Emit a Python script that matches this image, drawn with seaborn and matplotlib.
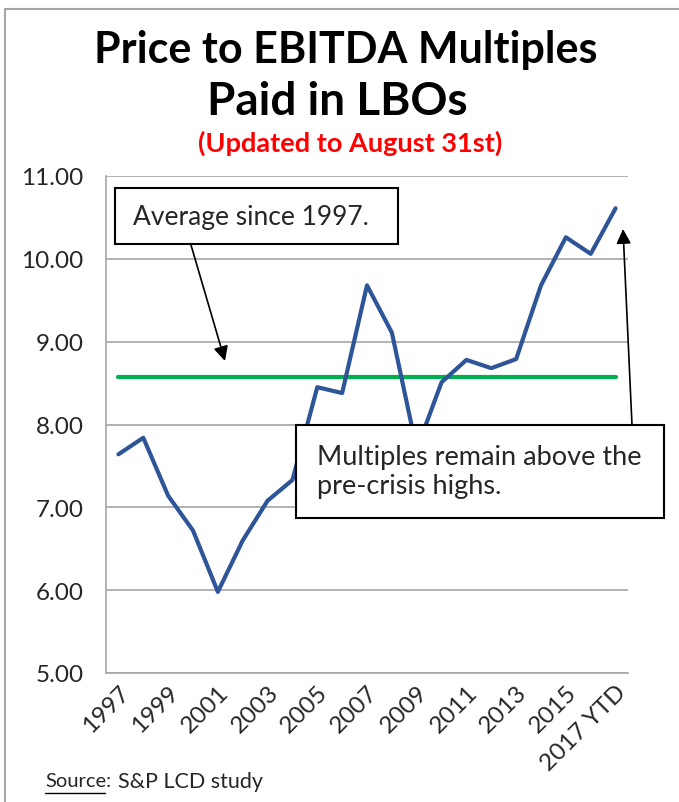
import numpy as np
import pandas as pd
import matplotlib
matplotlib.use('Agg')
import matplotlib.pyplot as plt
from matplotlib.patches import Rectangle, FancyArrowPatch
from matplotlib.lines import Line2D
import seaborn as sns

# ---- data ----
years = ['1997','1998','1999','2000','2001','2002','2003','2004','2005','2006','2007',
         '2008','2009','2010','2011','2012','2013','2014','2015','2016','2017 YTD']
multiples = [7.64, 7.84, 7.14, 6.72, 5.98, 6.60, 7.08, 7.33, 8.45, 8.38, 9.68,
             9.11, 7.70, 8.51, 8.78, 8.68, 8.79, 9.68, 10.26, 10.06, 10.61]
average_since_1997 = 8.57
ytick_vals = [5, 6, 7, 8, 9, 10, 11]

sns.set_style('white')
plt.rcParams['font.family'] = ['Lato', 'DejaVu Sans']

W, H = 679, 803
fig = plt.figure(figsize=(W/100, H/100), dpi=100)

def fx(x): return x / W
def fy(y): return 1 - y / H

ax = fig.add_axes([fx(106), fy(674), fx(628) - fx(106), fy(177) - fy(674)])

df = pd.DataFrame({'pos': np.arange(len(years)), 'year': years, 'mult': multiples,
                   'avg': [average_since_1997] * len(years)})

sns.lineplot(data=df, x='pos', y='avg', ax=ax, color='#00B050', linewidth=3.0, zorder=3)
sns.lineplot(data=df, x='pos', y='mult', ax=ax, color='#2E5597', linewidth=3.0, zorder=4)

ax.set_xlim(-0.5, len(years) - 0.5)
ax.set_ylim(5, 11)
ax.set_yticks(ytick_vals)
ax.set_yticklabels([f'{v:.2f}' for v in ytick_vals], fontsize=17.5)
ax.yaxis.grid(True, color='#A6A6A6', linewidth=1.2)
ax.set_axisbelow(True)

# Excel-style: tick marks between categories, labels on every other category
ax.set_xticks(np.arange(-0.5, len(years), 1.0))
ax.set_xticklabels([])
ax.set_xticks(df['pos'][::2], minor=True)
ax.set_xticklabels(df['year'][::2], minor=True, rotation=45, ha='right',
                   rotation_mode='anchor', fontsize=17.5)
ax.tick_params(axis='x', which='major', length=6, width=1.2, color='#A6A6A6', direction='out')
ax.tick_params(axis='x', which='minor', length=0, pad=6)
ax.tick_params(axis='y', length=8, width=1.2, color='#A6A6A6', direction='out', pad=8)
ax.set_xlabel(''); ax.set_ylabel('')

for s in ['top', 'right']:
    ax.spines[s].set_visible(False)
for s in ['left', 'bottom']:
    ax.spines[s].set_color('#A6A6A6'); ax.spines[s].set_linewidth(1.2)

# titles
fig.text(fx(346), fy(50), 'Price to EBITDA Multiples', ha='center', va='center',
         fontsize=31, fontweight='bold', color='black')
fig.text(fx(337), fy(102), 'Paid in LBOs', ha='center', va='center',
         fontsize=33, fontweight='bold', color='black')
fig.text(fx(350), fy(143), '(Updated to August 31st)', ha='center', va='center',
         fontsize=19.5, fontweight='bold', color='#FF0000')

# annotation boxes
fig.add_artist(Rectangle((fx(115), fy(245)), fx(398) - fx(115), fy(189) - fy(245),
                         transform=fig.transFigure, facecolor='white', edgecolor='black',
                         linewidth=1.5, zorder=5))
fig.text(fx(133), fy(218), 'Average since 1997.', ha='left', va='center', fontsize=19, zorder=6)
fig.add_artist(Rectangle((fx(296), fy(519)), fx(664) - fx(296), fy(426) - fy(519),
                         transform=fig.transFigure, facecolor='white', edgecolor='black',
                         linewidth=1.5, zorder=5))
fig.text(fx(317), fy(472), 'Multiples remain above the\npre-crisis highs.', ha='left',
         va='center', fontsize=19.5, linespacing=1.2, zorder=6)

# arrows
arrowprops = dict(arrowstyle='-|>', color='black', lw=1.2, mutation_scale=22, shrinkA=0, shrinkB=0)
fig.add_artist(FancyArrowPatch((fx(191), fy(246)), (fx(225), fy(362)),
               transform=fig.transFigure, zorder=5, **arrowprops))
fig.add_artist(FancyArrowPatch((fx(632), fy(426)), (fx(623), fy(230)),
               transform=fig.transFigure, zorder=5, **arrowprops))

# source
fig.text(fx(45), fy(782), 'Source:', ha='left', va='center', fontsize=14.5)
fig.add_artist(Line2D([fx(45), fx(105)], [fy(794), fy(794)], color='black', lw=1.0))
fig.text(fx(118), fy(782), 'S&P LCD study', ha='left', va='center', fontsize=15.5)

# outer frame (left and top edges visible)
fig.add_artist(Line2D([fx(5), fx(5)], [fy(10), 0], color='#A6A6A6', lw=1.5))
fig.add_artist(Line2D([fx(5), 1], [fy(10), fy(10)], color='#A6A6A6', lw=1.5))

fig.savefig('out.png', dpi=100)
